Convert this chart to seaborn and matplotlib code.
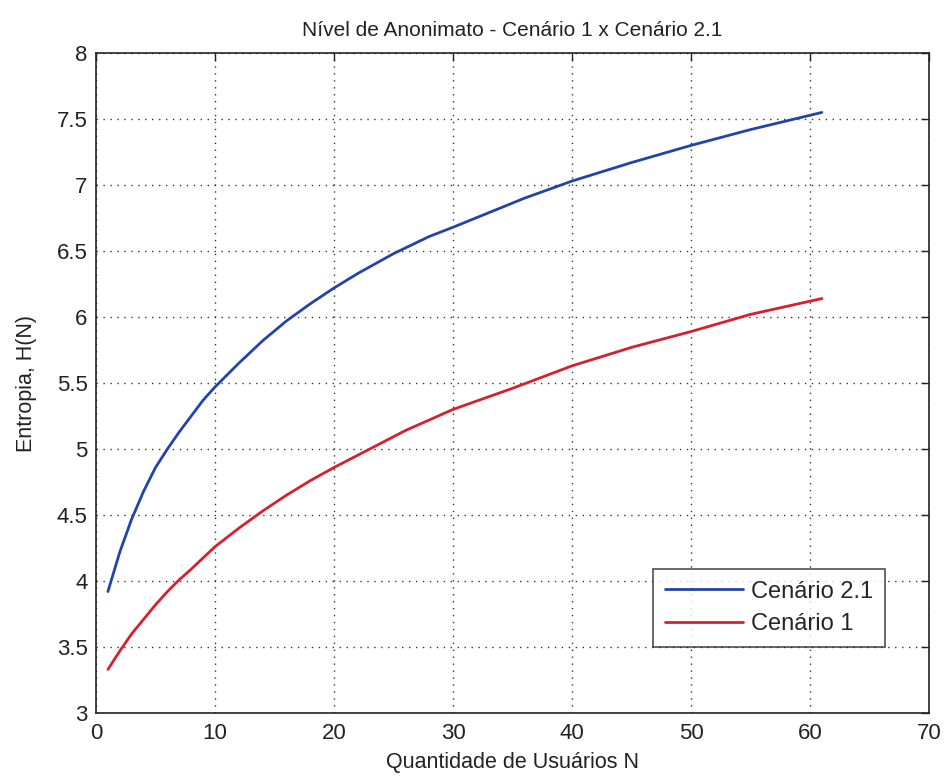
import numpy as np
import pandas as pd
import matplotlib
matplotlib.use("Agg")
import matplotlib.pyplot as plt
import seaborn as sns

# Cenario 2.1 (blue curve)
x_c21 = [1, 2, 3, 4, 5, 6, 7, 8, 9, 10, 12, 14, 16, 18, 20, 22, 25, 28, 30, 33, 36, 40, 45, 50, 55, 61]
y_c21 = [3.92, 4.22, 4.47, 4.68, 4.86, 5.00, 5.13, 5.25, 5.37, 5.47, 5.65, 5.82, 5.97, 6.10,
         6.22, 6.33, 6.48, 6.61, 6.68, 6.79, 6.90, 7.03, 7.17, 7.30, 7.42, 7.55]

# Cenario 1 (red curve)
x_c1 = [1, 2, 3, 4, 5, 6, 7, 8, 10, 12, 14, 16, 18, 20, 23, 26, 30, 35, 40, 45, 50, 55, 61]
y_c1 = [3.33, 3.47, 3.60, 3.71, 3.82, 3.92, 4.01, 4.09, 4.26, 4.40, 4.53, 4.65, 4.76, 4.86,
        5.00, 5.14, 5.30, 5.46, 5.63, 5.77, 5.89, 6.02, 6.14]

labels = ["Cenário 2.1", "Cenário 1"]
colors = ["#2244aa", "#d42030"]

df = pd.concat([
    pd.DataFrame({"N": x_c21, "H": y_c21, "serie": labels[0]}),
    pd.DataFrame({"N": x_c1, "H": y_c1, "serie": labels[1]}),
])

sns.set_style("white")
plt.rcParams['font.family'] = ['Liberation Sans', 'DejaVu Sans']

fig, ax = plt.subplots(figsize=(9.44, 7.82), dpi=100)
fig.subplots_adjust(left=0.1017, right=0.9841, bottom=0.0882, top=0.9322)

sns.lineplot(data=df, x="N", y="H", hue="serie", hue_order=labels,
             palette=colors, linewidth=2, ax=ax)

ax.set_xlim(0, 70)
ax.set_ylim(3, 8)
ax.set_xticks(np.arange(0, 71, 10))
ax.set_yticks(np.arange(3, 8.01, 0.5))
ax.set_yticklabels(['3', '3.5', '4', '4.5', '5', '5.5', '6', '6.5', '7', '7.5', '8'])
ax.grid(True, linestyle=(0, (1, 4)), color='#333333', linewidth=1.0)
ax.tick_params(direction='in', length=6, width=1, top=True, right=True,
               labelsize=16, colors='#222222')
ax.tick_params(axis='x', pad=7)
ax.tick_params(axis='y', pad=6)
for s in ax.spines.values():
    s.set_color('#222222')
    s.set_linewidth(1.2)

ax.set_title("Nível de Anonimato - Cenário 1 x Cenário 2.1", fontsize=15, color='#222222', pad=12)
ax.set_xlabel("Quantidade de Usuários N", fontsize=15.5, color='#222222', labelpad=6)
ax.set_ylabel("Entropia, H(N)", fontsize=15.5, color='#222222', labelpad=14)

leg = ax.legend(loc='lower right', bbox_to_anchor=(0.947, 0.1), fontsize=17,
                frameon=True, fancybox=False, handlelength=3.3, borderpad=0.5,
                labelspacing=0.45, handletextpad=0.35, borderaxespad=0)
leg.get_frame().set_edgecolor('#222222')
leg.get_frame().set_linewidth(1.2)

fig.savefig("out.png", dpi=100)
